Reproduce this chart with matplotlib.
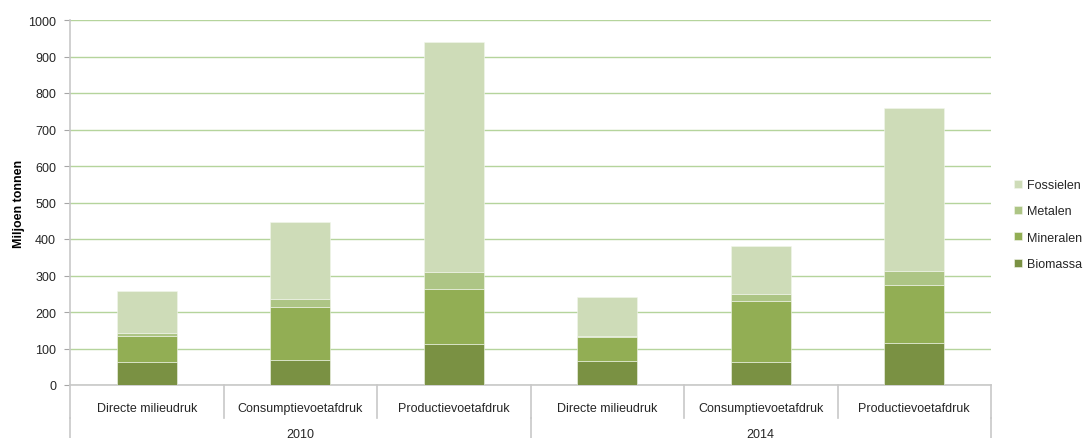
import numpy as np
import matplotlib.pyplot as plt
from matplotlib.lines import Line2D

plt.rcParams['font.family'] = ['Liberation Sans', 'DejaVu Sans']
plt.rcParams['text.color'] = '#262626'
plt.rcParams['ytick.labelcolor'] = '#262626'

years = ['2010', '2014']
categories = ['Directe milieudruk', 'Consumptievoetafdruk', 'Productievoetafdruk']

# miljoen tonnen per grondstofgroep, volgorde: 2010 (3 indicatoren), 2014 (3 indicatoren)
biomassa = [62, 68, 112, 67, 63, 115]
mineralen = [71, 145, 150, 64, 166, 159]
metalen = [9, 23, 48, 4, 19, 39]
fossielen = [115, 211, 630, 107, 132, 445]

series = [
    ('Biomassa', biomassa, '#7a9143'),
    ('Mineralen', mineralen, '#92ae54'),
    ('Metalen', metalen, '#adc585'),
    ('Fossielen', fossielen, '#cedcb8'),
]

fig = plt.figure(figsize=(10.86, 4.39), dpi=100)
ax = fig.add_axes([70 / 1086, 1 - 386 / 439, 921 / 1086, 365 / 439])

x = np.arange(len(biomassa))
bottom = np.zeros(len(x))
handles = []
for name, vals, col in series:
    b = ax.bar(x, vals, width=0.39, bottom=bottom, color=col, label=name,
               edgecolor='#f2f6ec', linewidth=0.4, zorder=3)
    bottom += np.array(vals)
    handles.append(b)

ax.set_xlim(-0.5, len(x) - 0.5)
ax.set_ylim(0, 1000)
ax.set_yticks(np.arange(0, 1001, 100))
ax.yaxis.grid(True, color='#b5d49c', linewidth=1.0, zorder=0)
ax.set_axisbelow(True)
ax.tick_params(axis='y', labelsize=9, length=4, color='#a6a6a6', pad=6)
ax.set_xticks([])

for s in ['top', 'right']:
    ax.spines[s].set_visible(False)
for s in ['left', 'bottom']:
    ax.spines[s].set_color('#c8c8c8')
    ax.spines[s].set_linewidth(1.2)

ax.set_ylabel('Miljoen tonnen', fontsize=9, fontweight='bold', labelpad=2)

# twee niveaus op de x-as: indicator en jaar
trans = ax.get_xaxis_transform()
n = len(categories)
for i in range(len(x)):
    ax.text(i, -0.063, categories[i % n], transform=trans, ha='center', va='center', fontsize=9)
for k in range(len(x) + 1):
    ax.add_line(Line2D([k - 0.5, k - 0.5], [0, -0.09], transform=trans,
                       color='#c8c8c8', linewidth=1.2, clip_on=False))
for j, yr in enumerate(years):
    ax.text(j * n + (n - 1) / 2, -0.133, yr, transform=trans, ha='center', va='center', fontsize=9)
for k in range(len(years) + 1):
    ax.add_line(Line2D([k * n - 0.5, k * n - 0.5], [-0.09, -0.16], transform=trans,
                       color='#c8c8c8', linewidth=1.2, clip_on=False))

leg = fig.legend(handles[::-1], [s[0] for s in series][::-1], loc='upper left',
                 bbox_to_anchor=(1014 / 1086, 1 - 180 / 439), frameon=False, fontsize=9,
                 borderpad=0, borderaxespad=0,
                 handlelength=0.62, handleheight=0.62, handletextpad=0.45, labelspacing=1.15)

fig.savefig('out.png', dpi=100)
